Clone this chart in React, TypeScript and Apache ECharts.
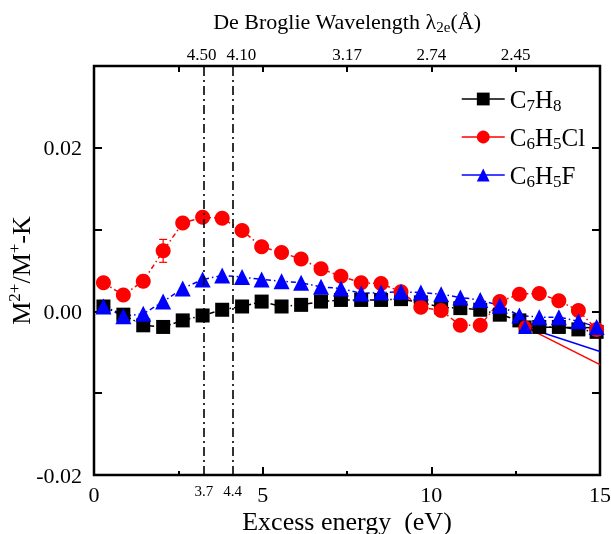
import React, { useEffect, useRef } from "react";
import * as echarts from "echarts";

// Excess energy (eV) of every measured point
const energies = [0.28, 0.87, 1.46, 2.05, 2.63, 3.22, 3.80, 4.39, 4.97, 5.56, 6.14, 6.73, 7.32, 7.92, 8.51, 9.10, 9.69, 10.29, 10.86, 11.45, 12.03, 12.61, 13.20, 13.78, 14.36, 14.90];
// M2+/M+ - K values
const c7h8 = [0.0006, -0.0004, -0.0017, -0.0019, -0.0011, -0.0005, 0.0002, 0.0006, 0.0012, 0.0006, 0.0008, 0.0012, 0.0014, 0.0014, 0.0014, 0.0015, 0.0011, 0.0005, 0.0004, 0.0002, -0.0004, -0.0011, -0.0019, -0.0019, -0.0022, -0.0025];
const c6h5cl = [0.0035, 0.0020, 0.0037, 0.0074, 0.0108, 0.0115, 0.0114, 0.0099, 0.0079, 0.0072, 0.0064, 0.0052, 0.0043, 0.0035, 0.0034, 0.0024, 0.0005, 0.0001, -0.0017, -0.0017, 0.0012, 0.0021, 0.0022, 0.0013, 0.0001, -0.0022];
const c6h5f = [0.0006, -0.0006, -0.0003, 0.0012, 0.0028, 0.0039, 0.0044, 0.0042, 0.0039, 0.0037, 0.0035, 0.0030, 0.0028, 0.0022, 0.0023, 0.0024, 0.0023, 0.0021, 0.0017, 0.0014, 0.0007, -0.0005, -0.0007, -0.0007, -0.0012, -0.0019];
// error bars of C6H5Cl: energy, value, half-height
const clErrorEnergies = [1.46, 2.05, 12.78];
const clErrorValues = [0.0037, 0.0074, -0.0019];
const clErrorSizes = [0.0007, 0.0014, 0.0004];
// extra solid segments from the common point to the right border
const extEnergies = [12.78, 15];
const extC7h8 = [-0.0019, -0.0020];
const extC6h5cl = [-0.0019, -0.0065];
const extC6h5f = [-0.0019, -0.0049];
// vertical dash-dot marker lines
const markerEnergies = [3.26, 4.11];
const markerEnergyLabels = ["3.7", "4.4"];
// top (wavelength) axis
const topTickEnergies = [2.5, 5, 7.5, 10, 12.5];
const topLabelEnergies = [3.19, 4.37, 7.5, 10, 12.5];
const topLabels = ["4.50", "4.10", "3.17", "2.74", "2.45"];
// bottom axis labels
const bottomLabelEnergies = [0, 5, 10, 15];

const seriesNames = ["C7H8", "C6H5Cl", "C6H5F"];
const legendRich: Record<string, string> = {
  C7H8: "C{sub|7}H{sub|8}",
  C6H5Cl: "C{sub|6}H{sub|5}Cl",
  C6H5F: "C{sub|6}H{sub|5}F",
};

const FONT = "Liberation Serif";
const dashDot = [5, 3, 1.5, 3];

function findIdx(arr: number[], v: number) {
  return arr.findIndex((a) => Math.abs(a - v) < 1e-6);
}

export default function App() {
  const ref = useRef<HTMLDivElement>(null);
  useEffect(() => {
    if (!ref.current) return;
    const chart = echarts.init(ref.current, undefined, { renderer: "svg" });
    const pts = (ys: number[]) => energies.map((x, i) => [x, ys[i]]);
    const ext = (ys: number[], sym: string, size: number) =>
      extEnergies.map((x, i) => ({ value: [x, ys[i]], symbol: i === 0 ? sym : "none", symbolSize: size }));

    const markData = markerEnergies.map((e) => ({ xAxis: e }));

    const option: any = {
      animation: false,
      textStyle: { fontFamily: FONT, color: "#000" },
      grid: {
        left: 94, right: 11, top: 66, bottom: 59,
        containLabel: false,
        outerBoundsMode: "none",
        show: true, borderColor: "#000", borderWidth: 2.5, backgroundColor: "transparent",
      },
      legend: {
        data: seriesNames,
        orient: "vertical",
        left: 456,
        top: 79,
        itemWidth: 43,
        itemHeight: 16,
        itemGap: 8,
        lineStyle: { type: "solid", width: 1.5 },
        formatter: (n: string) => legendRich[n],
        textStyle: {
          fontFamily: FONT,
          fontSize: 25,
          lineHeight: 30,
          color: "#000",
          rich: { sub: { fontSize: 17, verticalAlign: "bottom", fontFamily: FONT, color: "#000" } },
        },
      },
      xAxis: [
        {
          type: "value",
          min: 0,
          max: 15,
          interval: 5,
          position: "bottom",
          name: "Excess energy  (eV)",
          nameLocation: "middle",
          nameGap: 33,
          nameMoveOverlap: false,
          nameTextStyle: { fontFamily: FONT, fontSize: 26, color: "#000" },
          axisLine: { show: false, onZero: false },
          splitLine: { show: false },
          axisTick: { inside: true, length: 8, lineStyle: { color: "#000", width: 2 } },
          minorTick: { show: true, splitNumber: 2, length: 4, lineStyle: { color: "#000", width: 2 } },
          axisLabel: {
            customValues: [...bottomLabelEnergies, ...markerEnergies],
            margin: 8,
            fontFamily: FONT,
            fontSize: 22,
            color: "#000",
            formatter: (v: number) => {
              const m = findIdx(markerEnergies, v);
              if (m >= 0) return "{s|" + markerEnergyLabels[m] + "}";
              return String(Math.round(v));
            },
            rich: { s: { fontSize: 15, fontFamily: FONT, color: "#000", padding: [0, 0, 5, 0] } },
          },
        },
        {
          type: "value",
          min: 0,
          max: 15,
          position: "top",
          name: "De Broglie Wavelength λ{sub|2e}(Å)",
          nameLocation: "middle",
          nameGap: 32,
          nameMoveOverlap: false,
          nameTextStyle: {
            fontFamily: FONT,
            fontSize: 22,
            lineHeight: 26,
            color: "#000",
            rich: { sub: { fontSize: 15, verticalAlign: "bottom", fontFamily: FONT, color: "#000" } },
          },
          axisLine: { show: false, onZero: false },
          splitLine: { show: false },
          axisTick: { inside: true, length: 6, customValues: topTickEnergies, lineStyle: { color: "#000", width: 2 } },
          axisLabel: {
            customValues: topLabelEnergies,
            margin: 3,
            fontFamily: FONT,
            fontSize: 17,
            color: "#000",
            formatter: (v: number) => {
              const t = findIdx(topLabelEnergies, v);
              return t >= 0 ? topLabels[t] : "";
            },
          },
        },
      ],
      yAxis: [
        {
          type: "value",
          min: -0.02,
          max: 0.03,
          interval: 0.01,
          position: "left",
          name: "M{sup|2+}/M{sup|+}-K",
          nameLocation: "middle",
          nameGap: 58,
          nameMoveOverlap: false,
          nameTextStyle: {
            fontFamily: FONT,
            fontSize: 26,
            lineHeight: 30,
            color: "#000",
            rich: { sup: { fontSize: 17, verticalAlign: "top", fontFamily: FONT, color: "#000" } },
          },
          axisLine: { show: false, onZero: false },
          splitLine: { show: false },
          axisTick: { inside: true, length: 8, lineStyle: { color: "#000", width: 2 } },
          axisLabel: {
            margin: 12,
            fontFamily: FONT,
            fontSize: 22,
            color: "#000",
            formatter: (v: number) => {
              const r = Math.round(v * 100);
              if (r % 2 !== 0 || r > 2) return "";
              return (r / 100).toFixed(2);
            },
          },
        },
        {
          type: "value",
          min: -0.02,
          max: 0.03,
          interval: 0.01,
          position: "right",
          axisLine: { show: false, onZero: false },
          splitLine: { show: false },
          axisTick: { inside: true, length: 8, lineStyle: { color: "#000", width: 2 } },
          axisLabel: { show: false },
        },
      ],
      series: [
        {
          name: "C7H8",
          type: "line",
          data: pts(c7h8),
          symbol: "rect",
          symbolSize: 14,
          itemStyle: { color: "#000" },
          lineStyle: { color: "#000", width: 1.5, type: dashDot },
          markLine: {
            silent: true,
            symbol: "none",
            lineStyle: { color: "#000", width: 1.6, type: [9, 4, 2, 4] },
            label: { show: false },
            data: markData,
          },
        },
        {
          name: "C6H5Cl err",
          type: "custom",
          data: clErrorEnergies.map((x, i) => [x, clErrorValues[i], clErrorSizes[i]]),
          renderItem: (params: any, api: any) => {
            const x = api.value(0), y = api.value(1), e = api.value(2);
            const t = api.coord([x, y + e]);
            const b = api.coord([x, y - e]);
            const st = { stroke: "#ff0000", lineWidth: 1.2 };
            return {
              type: "group",
              children: [
                { type: "line", shape: { x1: t[0], y1: t[1], x2: b[0], y2: b[1] }, style: st },
                { type: "line", shape: { x1: t[0] - 4, y1: t[1], x2: t[0] + 4, y2: t[1] }, style: st },
                { type: "line", shape: { x1: b[0] - 4, y1: b[1], x2: b[0] + 4, y2: b[1] }, style: st },
              ],
            };
          },
          silent: true,
        },
        {
          name: "C6H5Cl",
          type: "line",
          data: pts(c6h5cl),
          symbol: "circle",
          symbolSize: 15,
          itemStyle: { color: "#ff0000" },
          lineStyle: { color: "#ff0000", width: 1.5, type: dashDot },
        },
        {
          name: "C6H5F",
          type: "line",
          data: pts(c6h5f),
          symbol: "triangle",
          symbolSize: 16,
          itemStyle: { color: "#0000ff" },
          lineStyle: { color: "#0000ff", width: 1.5, type: dashDot },
        },
        {
          name: "ext7",
          type: "line",
          data: ext(extC7h8, "rect", 13),
          itemStyle: { color: "#000" },
          lineStyle: { color: "#000", width: 1.5 },
        },
        {
          name: "extCl",
          type: "line",
          data: ext(extC6h5cl, "circle", 13),
          itemStyle: { color: "#ff0000" },
          lineStyle: { color: "#ff0000", width: 1.5 },
        },
        {
          name: "extF",
          type: "line",
          data: ext(extC6h5f, "triangle", 14),
          itemStyle: { color: "#0000ff" },
          lineStyle: { color: "#0000ff", width: 1.5 },
        },
      ],
    };
    chart.setOption(option);
    return () => chart.dispose();
  }, []);
  return <div ref={ref} style={{ position: "fixed", left: 0, top: 0, width: 611, height: 534 }} />;
}
